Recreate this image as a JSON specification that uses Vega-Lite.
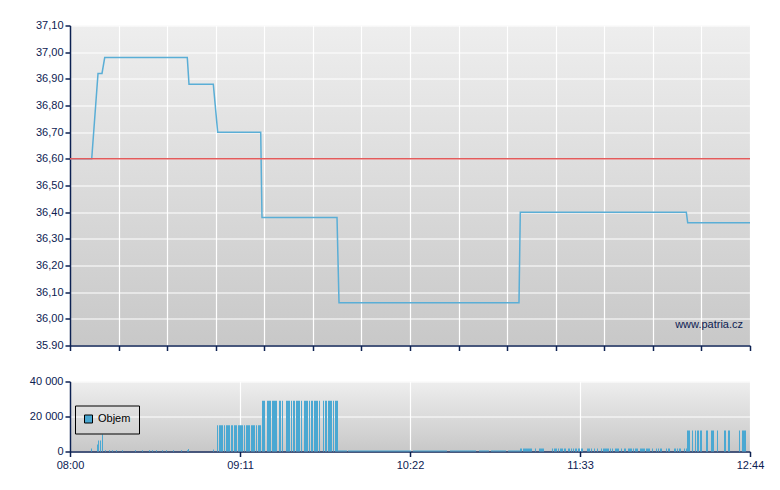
{
  "$schema": "https://vega.github.io/schema/vega-lite/v6.json",
  "background": "white",
  "padding": {"left": 29, "top": 19.5, "right": 20, "bottom": 5},
  "spacing": 24,
  "config": {
    "font": "Liberation Sans",
    "view": {"stroke": null},
    "axis": {
      "title": null,
      "labelFont": "Liberation Sans",
      "labelFontSize": 11,
      "labelColor": "#0c2152",
      "labelOverlap": false,
      "domainColor": "#0c2152",
      "domainWidth": 1.5,
      "tickColor": "#0c2152",
      "tickWidth": 1.5,
      "tickSize": 5,
      "labelPadding": 2,
      "gridColor": "#ffffff",
      "gridWidth": 1.2,
      "gridOpacity": 1
    }
  },
  "vconcat": [
    {
      "width": 680,
      "height": 320,
      "view": {
        "stroke": null,
        "fill": {"gradient": "linear", "x1": 0, "y1": 0, "x2": 0, "y2": 1,
          "stops": [{"offset": 0, "color": "#eeeeee"}, {"offset": 1, "color": "#c8c8c8"}]}
      },
      "layer": [
        {
          "data": {
            "values": [
              {"t": "08:00:00", "price": 36.60},
              {"t": "08:09:04", "price": 36.60},
              {"t": "08:11:42", "price": 36.92},
              {"t": "08:13:22", "price": 36.92},
              {"t": "08:14:30", "price": 36.98},
              {"t": "08:48:59", "price": 36.98},
              {"t": "08:49:42", "price": 36.88},
              {"t": "08:59:51", "price": 36.88},
              {"t": "09:01:41", "price": 36.70},
              {"t": "09:19:39", "price": 36.70},
              {"t": "09:20:11", "price": 36.38},
              {"t": "09:51:31", "price": 36.38},
              {"t": "09:52:21", "price": 36.06},
              {"t": "11:07:31", "price": 36.06},
              {"t": "11:08:04", "price": 36.40},
              {"t": "12:17:24", "price": 36.40},
              {"t": "12:17:59", "price": 36.36},
              {"t": "12:44:00", "price": 36.36}
            ],
            "format": {"parse": {"t": "utc:'%H:%M:%S'"}}
          },
          "mark": {"type": "line", "color": "#5aaed6", "strokeWidth": 1.5},
          "encoding": {
            "x": {
              "field": "t", "type": "temporal",
              "scale": {"type": "utc", "domain": [-2208960000000, -2208942960000]},
              "axis": {
                "values": [-2208960000000, -2208958782857, -2208957565714, -2208956348571, -2208955131429, -2208953914286, -2208952697143, -2208951480000, -2208950262857, -2208949045714, -2208947828571, -2208946611429, -2208945394286, -2208944177143, -2208942960000],
                "tickCount": 15,
                "labels": false, "grid": true
              }
            },
            "y": {
              "field": "price", "type": "quantitative",
              "scale": {"domain": [35.9, 37.1], "zero": false, "nice": false},
              "axis": {
                "values": [35.9, 36, 36.1, 36.2, 36.3, 36.4, 36.5, 36.6, 36.7, 36.8, 36.9, 37, 37.1],
                "tickCount": 13,
                "grid": true,
                "labelOverlap": false,
                "labelExpr": "datum.value < 35.95 ? format(datum.value, '.2f') : replace(format(datum.value, '.2f'), '.', ',')"
              }
            }
          }
        },
        {
          "data": {"values": [{"ref": 36.60}]},
          "mark": {"type": "rule", "color": "#e35b5b", "strokeWidth": 1.5},
          "encoding": {"y": {"field": "ref", "type": "quantitative"}}
        },
        {
          "data": {"values": [{}]},
          "mark": {"type": "text", "text": "www.patria.cz", "align": "right", "baseline": "alphabetic", "fontSize": 11, "color": "#0c2152", "font": "Liberation Sans"},
          "encoding": {
            "x": {"datum": {"year": 1900, "month": 1, "date": 1, "hours": 12, "minutes": 41, "seconds": 5, "utc": true}, "type": "temporal"},
            "y": {"datum": 35.967, "type": "quantitative"}
          }
        }
      ]
    },
    {
      "width": 680,
      "height": 70,
      "view": {
        "stroke": null,
        "fill": {"gradient": "linear", "x1": 0, "y1": 0, "x2": 0, "y2": 1,
          "stops": [{"offset": 0, "color": "#eeeeee"}, {"offset": 1, "color": "#c8c8c8"}]}
      },
      "data": {
        "values": [
          {"s": "08:08:46", "e": "08:09:11", "vol": 1700},
          {"s": "08:11:17", "e": "08:11:42", "vol": 4000},
          {"s": "08:11:42", "e": "08:12:07", "vol": 6300},
          {"s": "08:12:32", "e": "08:12:57", "vol": 6300},
          {"s": "08:13:22", "e": "08:13:47", "vol": 9700},
          {"s": "08:14:37", "e": "08:15:02", "vol": 700},
          {"s": "08:16:17", "e": "08:16:42", "vol": 700},
          {"s": "08:17:32", "e": "08:17:58", "vol": 700},
          {"s": "08:19:13", "e": "08:19:38", "vol": 700},
          {"s": "08:21:43", "e": "08:22:08", "vol": 700},
          {"s": "08:27:09", "e": "08:27:34", "vol": 700},
          {"s": "08:30:04", "e": "08:30:29", "vol": 700},
          {"s": "08:33:00", "e": "08:33:25", "vol": 700},
          {"s": "08:34:15", "e": "08:34:40", "vol": 700},
          {"s": "08:35:55", "e": "08:36:20", "vol": 700},
          {"s": "08:38:25", "e": "08:38:51", "vol": 700},
          {"s": "08:40:06", "e": "08:40:31", "vol": 700},
          {"s": "08:43:01", "e": "08:43:26", "vol": 700},
          {"s": "08:46:22", "e": "08:46:47", "vol": 700},
          {"s": "08:48:52", "e": "08:49:17", "vol": 700},
          {"s": "08:49:17", "e": "08:49:42", "vol": 1500},
          {"s": "08:59:43", "e": "09:00:09", "vol": 1100},
          {"s": "09:01:24", "e": "09:01:49", "vol": 15000},
          {"s": "09:02:14", "e": "09:03:54", "vol": 15000},
          {"s": "09:04:19", "e": "09:04:44", "vol": 15000},
          {"s": "09:05:09", "e": "09:06:49", "vol": 15000},
          {"s": "09:07:14", "e": "09:08:05", "vol": 15000},
          {"s": "09:08:30", "e": "09:09:45", "vol": 15000},
          {"s": "09:10:10", "e": "09:12:15", "vol": 15000},
          {"s": "09:12:40", "e": "09:13:05", "vol": 15000},
          {"s": "09:13:30", "e": "09:15:11", "vol": 15000},
          {"s": "09:15:36", "e": "09:17:16", "vol": 15000},
          {"s": "09:17:41", "e": "09:18:06", "vol": 15000},
          {"s": "09:18:31", "e": "09:19:46", "vol": 15000},
          {"s": "09:20:11", "e": "09:21:26", "vol": 29000},
          {"s": "09:22:17", "e": "09:23:57", "vol": 29000},
          {"s": "09:24:22", "e": "09:26:27", "vol": 29000},
          {"s": "09:27:17", "e": "09:28:07", "vol": 29000},
          {"s": "09:28:32", "e": "09:28:58", "vol": 29000},
          {"s": "09:30:13", "e": "09:31:53", "vol": 29000},
          {"s": "09:32:18", "e": "09:32:43", "vol": 29000},
          {"s": "09:33:08", "e": "09:33:58", "vol": 29000},
          {"s": "09:34:23", "e": "09:36:04", "vol": 29000},
          {"s": "09:36:29", "e": "09:36:54", "vol": 29000},
          {"s": "09:37:44", "e": "09:39:24", "vol": 29000},
          {"s": "09:39:49", "e": "09:40:14", "vol": 29000},
          {"s": "09:40:39", "e": "09:41:29", "vol": 29000},
          {"s": "09:41:54", "e": "09:43:35", "vol": 29000},
          {"s": "09:44:00", "e": "09:44:25", "vol": 29000},
          {"s": "09:45:40", "e": "09:46:05", "vol": 29000},
          {"s": "09:46:30", "e": "09:47:20", "vol": 29000},
          {"s": "09:47:45", "e": "09:49:25", "vol": 29000},
          {"s": "09:49:50", "e": "09:50:16", "vol": 29000},
          {"s": "09:50:41", "e": "09:51:56", "vol": 29000},
          {"s": "09:51:56", "e": "09:55:41", "vol": 600},
          {"s": "09:56:06", "e": "10:22:25", "vol": 600},
          {"s": "10:23:15", "e": "10:37:27", "vol": 600},
          {"s": "10:38:42", "e": "10:49:34", "vol": 600},
          {"s": "10:50:49", "e": "10:55:00", "vol": 600},
          {"s": "10:55:50", "e": "11:02:06", "vol": 600},
          {"s": "11:02:56", "e": "11:07:56", "vol": 600},
          {"s": "11:07:56", "e": "11:08:47", "vol": 1700},
          {"s": "11:09:12", "e": "11:12:57", "vol": 1700},
          {"s": "11:14:12", "e": "11:14:37", "vol": 1700},
          {"s": "11:15:53", "e": "11:17:58", "vol": 1700},
          {"s": "11:21:18", "e": "11:21:43", "vol": 1700},
          {"s": "11:22:08", "e": "11:23:24", "vol": 1700},
          {"s": "11:23:49", "e": "11:24:14", "vol": 1700},
          {"s": "11:24:39", "e": "11:25:54", "vol": 1700},
          {"s": "11:26:19", "e": "11:27:09", "vol": 1700},
          {"s": "11:27:59", "e": "11:28:49", "vol": 1700},
          {"s": "11:29:15", "e": "11:29:40", "vol": 1700},
          {"s": "11:30:05", "e": "11:30:30", "vol": 1700},
          {"s": "11:30:55", "e": "11:31:45", "vol": 1700},
          {"s": "11:32:10", "e": "11:33:00", "vol": 1700},
          {"s": "11:33:25", "e": "11:34:15", "vol": 1700},
          {"s": "11:35:55", "e": "11:37:11", "vol": 1700},
          {"s": "11:37:36", "e": "11:38:01", "vol": 1700},
          {"s": "11:38:51", "e": "11:39:16", "vol": 1700},
          {"s": "11:40:06", "e": "11:40:31", "vol": 1700},
          {"s": "11:41:46", "e": "11:42:11", "vol": 1700},
          {"s": "11:42:36", "e": "11:45:07", "vol": 1700},
          {"s": "11:45:32", "e": "11:45:57", "vol": 1700},
          {"s": "11:46:22", "e": "11:46:47", "vol": 1700},
          {"s": "11:47:37", "e": "11:49:17", "vol": 1700},
          {"s": "11:50:07", "e": "11:50:32", "vol": 1700},
          {"s": "11:51:23", "e": "11:52:13", "vol": 1700},
          {"s": "11:53:03", "e": "11:54:43", "vol": 1700},
          {"s": "11:55:08", "e": "11:55:33", "vol": 1700},
          {"s": "11:55:58", "e": "11:57:13", "vol": 1700},
          {"s": "11:58:04", "e": "12:00:09", "vol": 1700},
          {"s": "12:00:34", "e": "12:02:14", "vol": 1700},
          {"s": "12:03:04", "e": "12:03:29", "vol": 1700},
          {"s": "12:04:44", "e": "12:05:10", "vol": 1700},
          {"s": "12:05:35", "e": "12:06:00", "vol": 1700},
          {"s": "12:06:25", "e": "12:07:15", "vol": 1700},
          {"s": "12:08:55", "e": "12:09:20", "vol": 1700},
          {"s": "12:09:45", "e": "12:10:35", "vol": 1700},
          {"s": "12:12:16", "e": "12:13:06", "vol": 1700},
          {"s": "12:13:31", "e": "12:13:56", "vol": 1700},
          {"s": "12:14:21", "e": "12:15:11", "vol": 1700},
          {"s": "12:16:26", "e": "12:16:51", "vol": 1700},
          {"s": "12:17:16", "e": "12:17:41", "vol": 1700},
          {"s": "12:17:41", "e": "12:18:56", "vol": 12000},
          {"s": "12:19:47", "e": "12:20:12", "vol": 12000},
          {"s": "12:21:02", "e": "12:21:27", "vol": 12000},
          {"s": "12:21:52", "e": "12:22:42", "vol": 12000},
          {"s": "12:23:07", "e": "12:23:57", "vol": 12000},
          {"s": "12:25:37", "e": "12:26:28", "vol": 12000},
          {"s": "12:27:43", "e": "12:28:58", "vol": 12000},
          {"s": "12:30:13", "e": "12:30:38", "vol": 12000},
          {"s": "12:33:08", "e": "12:33:59", "vol": 12000},
          {"s": "12:34:49", "e": "12:35:39", "vol": 12000},
          {"s": "12:39:24", "e": "12:39:49", "vol": 12000},
          {"s": "12:40:40", "e": "12:42:20", "vol": 12000}
        ],
        "format": {"parse": {"s": "utc:'%H:%M:%S'", "e": "utc:'%H:%M:%S'"}}
      },
      "mark": {"type": "rect"},
      "encoding": {
        "x": {
          "field": "s", "type": "temporal",
          "scale": {"type": "utc", "domain": [-2208960000000, -2208942960000]},
          "axis": {
            "values": [-2208960000000, -2208955740000, -2208951480000, -2208947220000, -2208942960000],
            "tickCount": 5,
            "format": "%H:%M", "grid": true, "labelPadding": 3, "labelFlush": false
          }
        },
        "x2": {"field": "e"},
        "y": {
          "field": "vol", "type": "quantitative",
          "scale": {"domain": [0, 40000], "nice": false},
          "axis": {
            "values": [0, 20000, 40000], "tickCount": 3, "grid": true,
            "labelOverlap": false,
            "labelExpr": "replace(format(datum.value, ','), ',', ' ')"
          }
        },
        "y2": {"datum": 0},
        "color": {
          "datum": "Objem", "type": "nominal",
          "scale": {"range": ["#4aa8d2"]},
          "legend": {
            "orient": "none", "legendX": 5, "legendY": 380, "title": null,
            "strokeColor": "#000000", "padding": 8,
            "symbolType": "square", "symbolSize": 64,
            "symbolStrokeColor": "#000000", "symbolStrokeWidth": 1,
            "labelFont": "Liberation Sans", "labelFontSize": 11, "labelColor": "#000000"
          }
        }
      }
    }
  ]
}
